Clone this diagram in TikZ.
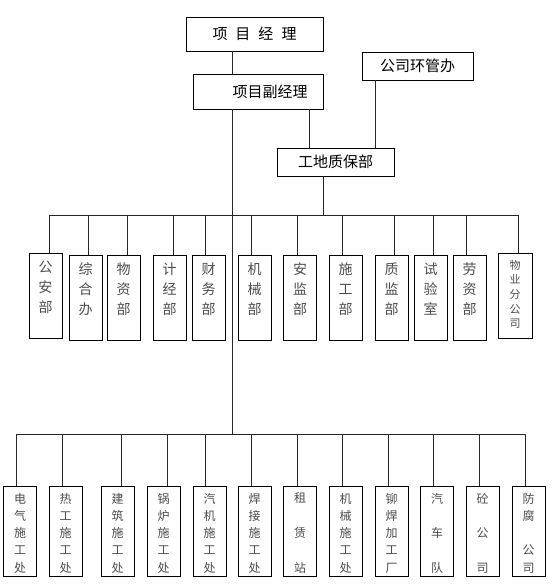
\documentclass[tikz,border=0pt]{standalone}
\usepackage{fontspec}
\newfontfamily\cjk{Noto Sans CJK SC}
\newcommand\midtxt[1]{\parbox[c][85pt][t]{33pt}{\centering\fontsize{14}{20}\selectfont\vspace*{8pt}#1}}
\newcommand\smalltxt[1]{\parbox[c][85pt][t]{34pt}{\centering\fontsize{11}{14.6}\selectfont\vspace*{7pt}#1}}
\newcommand\lowtxt[1]{\parbox[c][90pt][t]{33pt}{\centering\fontsize{12}{17.3}\selectfont\vspace*{7pt}#1}}
\tikzset{
  box/.style={draw, line width=0.7pt, inner sep=0pt, text=black!70},
  topbox/.style={draw, line width=0.7pt, inner sep=0pt, font=\cjk\fontsize{15}{15}\selectfont, text=black},
  link/.style={line width=0.7pt, black!85}
}
\begin{document}
\begin{tikzpicture}[x=1pt,y=-1pt,font=\cjk]
\useasboundingbox (0,0) rectangle (553,586);
\fill[white] (0,0) rectangle (553,586);
% top nodes
\node[topbox, minimum width=137pt, minimum height=34pt] (pm) at (254.5,34) {项\hspace{8pt}目\hspace{8pt}经\hspace{8pt}理};
\node[topbox, minimum width=130pt, minimum height=35pt] (vp) at (258,91.5) {\makebox[100pt][c]{\hspace{24pt}项目副经理}};
\node[topbox, minimum width=111pt, minimum height=28pt] (env) at (417.5,66) {公司环管办};
\node[topbox, minimum width=117pt, minimum height=28pt] (qd) at (335.5,162) {工地质保部};
\coordinate (busM) at (0,215);
\coordinate (busB) at (0,434);
% middle row
\foreach \i/\x/\y/\t in {
  1/45.5/295.5/{公\\安\\部},
  2/85.5/297.5/{综\\合\\办},
  3/123.5/297.5/{物\\资\\部},
  4/169.5/297.5/{计\\经\\部},
  5/208.5/297.5/{财\\务\\部},
  6/254.5/297.5/{机\\械\\部},
  7/300/297.5/{安\\监\\部},
  8/345.5/297.5/{施\\工\\部},
  9/391.5/297.5/{质\\监\\部},
  10/430.5/297.5/{试\\验\\室},
  11/469.5/297.5/{劳\\资\\部}}
  \node[box, minimum width=33pt, minimum height=85pt] (m\i) at (\x,\y) {\midtxt{\t}};
\node[box, minimum width=34pt, minimum height=85pt] (m12) at (515,295.5) {\smalltxt{物\\业\\分\\公\\司}};
% bottom row
\foreach \i/\x/\t in {
  1/20/{电\\气\\施\\工\\处},
  2/65.5/{热\\工\\施\\工\\处},
  3/117.5/{建\\筑\\施\\工\\处},
  4/163.5/{锅\\炉\\施\\工\\处},
  5/209.5/{汽\\机\\施\\工\\处},
  6/254.5/{焊\\接\\施\\工\\处},
  7/300/{租\\\mbox{}\\赁\\\mbox{}\\站},
  8/345.5/{机\\械\\施\\工\\处},
  9/391.5/{铆\\焊\\加\\工\\厂},
  10/437/{汽\\\mbox{}\\车\\\mbox{}\\队},
  11/482.5/{砼\\\mbox{}\\公\\\mbox{}\\司},
  12/528.5/{防\\腐\\\mbox{}\\公\\司}}
  \node[box, minimum width=33pt, minimum height=90pt] (b\i) at (\x,531) {\lowtxt{\t}};
% top connectors
\draw[link] ([xshift=-22.5pt]pm.south) -- ([xshift=-22.5pt]pm.south |- vp.north);
\draw[link] ([xshift=-26pt]vp.south) -- ([xshift=-26pt]vp.south |- busB);
\draw[link] ([xshift=51pt]vp.south) -- ([xshift=51pt]vp.south |- qd.north);
\draw[link] ([xshift=-42.5pt]env.south) -- ([xshift=-42.5pt]env.south |- qd.north);
\draw[link] ([xshift=-12.5pt]qd.south) -- ([xshift=-12.5pt]qd.south |- busM);
% middle bus
\draw[link] ([xshift=3.5pt]m1.north |- busM) -- ([xshift=3pt]m12.north |- busM);
\foreach \i/\d in {1/3.5,2/2.5,3/3.5,4/3.5,5/-3.5,6/-3.5,7/-3,8/-3.5,9/2.5,10/2.5,11/-3.5,12/3}
  \draw[link] ([xshift=\d pt]m\i.north) -- ([xshift=\d pt]m\i.north |- busM);
% bottom bus
\draw[link] ([xshift=-4pt]b1.north |- busB) -- ([xshift=-3.5pt]b12.north |- busB);
\foreach \i/\d in {1/-4,2/-3.5,3/3.5,4/3.5,5/-4.5,6/-3.5,7/-3,8/-3.5,9/-3.5,10/-4,11/-3.5,12/-3.5}
  \draw[link] ([xshift=\d pt]b\i.north) -- ([xshift=\d pt]b\i.north |- busB);
\end{tikzpicture}
\end{document}
